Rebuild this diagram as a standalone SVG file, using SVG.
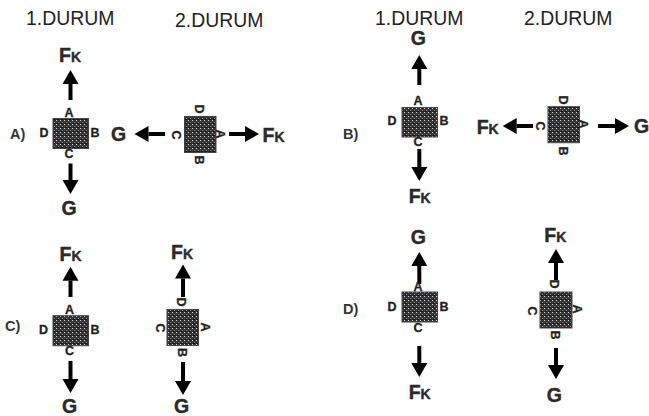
<svg xmlns="http://www.w3.org/2000/svg" width="649" height="416" viewBox="0 0 649 416">
<style>
text{font-family:"Liberation Sans",Arial,sans-serif;fill:#222}
.t{font-size:19.4px}
.o{font-size:14.5px;font-weight:bold;fill:#333}
.f{font-size:19.5px;font-weight:bold;fill:#2a2a2a;stroke:#2a2a2a;stroke-width:.4}
.k{font-size:14px}
.l{font-size:12.5px;font-weight:bold;text-anchor:middle;dominant-baseline:central;fill:#222;stroke:#222;stroke-width:.3}
.b{fill:url(#dots);stroke:#444;stroke-width:1}
.a{stroke:#000;stroke-width:4;fill:none;marker-end:url(#head)}
</style>
<defs>
<pattern id="dots" width="4" height="4" patternUnits="userSpaceOnUse">
<rect width="4" height="4" fill="#333"/>
<rect x="0" y="0" width="1" height="1" fill="#ddd"/>
<rect x="2" y="2" width="1" height="1" fill="#999"/>
<rect x="1" y="3" width="2" height="1" fill="#111"/>
</pattern>
<marker id="head" markerUnits="userSpaceOnUse" markerWidth="15" markerHeight="18" refX="0" refY="8.5" orient="auto">
<path d="M0,0.5 L14,8.5 L0,16.5 Z" fill="#000"/>
</marker>
</defs>
<g id="headings">
<text class="t" x="26" y="25">1.DURUM</text>
<text class="t" x="175" y="27">2.DURUM</text>
<text class="t" x="375" y="25">1.DURUM</text>
<text class="t" x="524" y="25">2.DURUM</text>
</g>
<g id="options">
<text class="o" x="10" y="139">A)</text>
<text class="o" x="343" y="139">B)</text>
<text class="o" x="5" y="331">C)</text>
<text class="o" x="343" y="314">D)</text>
</g>
<g id="connectors">
<path class="a" d="M70.5 100V84"/>
<path class="a" d="M70.5 163.5V180"/>
<path class="a" d="M165 134H148.500"/>
<path class="a" d="M229 134H245"/>
<path class="a" d="M419.300 85V69"/>
<path class="a" d="M419.300 149V167"/>
<path class="a" d="M533 126H516.700"/>
<path class="a" d="M598 126H615"/>
<path class="a" d="M70.500 297V280.700"/>
<path class="a" d="M70.500 361V379"/>
<path class="a" d="M183 297V278.500"/>
<path class="a" d="M183 362V381"/>
<path class="a" d="M419.300 284V266"/>
<path class="a" d="M419.300 346V363"/>
<path class="a" d="M556 280V263"/>
<path class="a" d="M556 348V365"/>
</g>
<g id="node-a1">
<rect class="b" x="53" y="118.500" width="35.500" height="30"/>
<text class="l" x="69" y="113">A</text><text class="l" x="44" y="133">D</text><text class="l" x="95" y="133">B</text><text class="l" x="69" y="154">C</text>
<text class="f" x="59" y="62">F<tspan class="k">K</tspan></text>
<text class="f" x="61.500" y="215">G</text>
</g>
<g id="node-a2">
<rect class="b" x="184.500" y="116.500" width="31.500" height="36"/>
<text class="l" transform="rotate(90 199 109)" x="199" y="109">D</text><text class="l" transform="rotate(90 176 135)" x="176" y="135">C</text><text class="l" transform="rotate(90 219.500 134)" x="219.500" y="134">A</text><text class="l" transform="rotate(90 199 160)" x="199" y="160">B</text>
<text class="f" x="111" y="141">G</text>
<text class="f" x="262.500" y="142">F<tspan class="k">K</tspan></text>
</g>
<g id="node-b1">
<rect class="b" x="402" y="107.500" width="35.500" height="29.500"/>
<text class="l" x="418" y="101">A</text><text class="l" x="392" y="121">D</text><text class="l" x="444" y="121">B</text><text class="l" x="418" y="142">C</text>
<text class="f" x="410.700" y="45">G</text>
<text class="f" x="408.700" y="203">F<tspan class="k">K</tspan></text>
</g>
<g id="node-b2">
<rect class="b" x="548" y="106.700" width="31.500" height="36"/>
<text class="l" transform="rotate(90 563 100)" x="563" y="100">D</text><text class="l" transform="rotate(90 540 126)" x="540" y="126">C</text><text class="l" transform="rotate(90 583 124)" x="583" y="124">A</text><text class="l" transform="rotate(90 563 151)" x="563" y="151">B</text>
<text class="f" x="476.700" y="134">F<tspan class="k">K</tspan></text>
<text class="f" x="634" y="133">G</text>
</g>
<g id="node-c1">
<rect class="b" x="53" y="315.700" width="35.500" height="30"/>
<text class="l" x="69.500" y="310">A</text><text class="l" x="43.500" y="330">D</text><text class="l" x="95" y="330">B</text><text class="l" x="69.500" y="351">C</text>
<text class="f" x="59.500" y="260.700">F<tspan class="k">K</tspan></text>
<text class="f" x="62" y="412.500">G</text>
</g>
<g id="node-c2">
<rect class="b" x="167" y="309.500" width="31.500" height="36"/>
<text class="l" transform="rotate(90 181 302)" x="181" y="302">D</text><text class="l" transform="rotate(90 159.500 328)" x="159.500" y="328">C</text><text class="l" transform="rotate(90 204.500 327)" x="204.500" y="327">A</text><text class="l" transform="rotate(90 181.500 352.500)" x="181.500" y="352.500">B</text>
<text class="f" x="171" y="259">F<tspan class="k">K</tspan></text>
<text class="f" x="174" y="413">G</text>
</g>
<g id="node-d1">
<rect class="b" x="402" y="292" width="35.500" height="30"/>
<text class="l" x="418" y="286.500">A</text><text class="l" x="392" y="307">D</text><text class="l" x="444" y="307">B</text><text class="l" x="418" y="327.500">C</text>
<text class="f" x="410.700" y="244">G</text>
<text class="f" x="408.700" y="399">F<tspan class="k">K</tspan></text>
</g>
<g id="node-d2">
<rect class="b" x="540" y="292" width="32" height="36"/>
<text class="l" transform="rotate(90 554 284)" x="554" y="284">D</text><text class="l" transform="rotate(90 531.500 311)" x="531.500" y="311">C</text><text class="l" transform="rotate(90 577 309)" x="577" y="309">A</text><text class="l" transform="rotate(90 554.500 335)" x="554.500" y="335">B</text>
<text class="f" x="544.300" y="241.700">F<tspan class="k">K</tspan></text>
<text class="f" x="546.700" y="401.700">G</text>
</g>
</svg>
